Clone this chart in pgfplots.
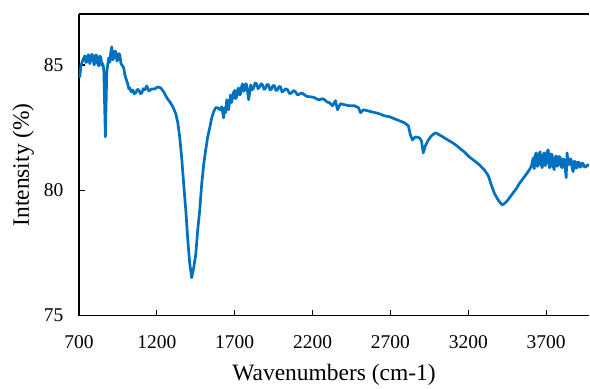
\documentclass[border=0pt]{standalone}
\usepackage{fontspec}
\setmainfont{Liberation Serif}
\usepackage{pgfplots}
\pgfplotsset{compat=1.18}
\definecolor{ftir}{RGB}{0,112,192}
\begin{document}
\begin{tikzpicture}
\begin{axis}[
  scale only axis,
  width=511pt, height=302pt,
  xmin=700, xmax=3976, ymin=75, ymax=87.03,
  axis x line=box, axis y line=left,
  axis line style={-, line width=1.6pt, black},
  xtick pos=left,
  xtick={700,1200,...,3700},
  ytick={75,80,85},
  tick align=inside,
  major tick length=6pt,
  every tick/.style={black, line width=1.3pt},
  /pgf/number format/assume math mode=true,
  /pgf/number format/1000 sep={},
  tick label style={font=\fontsize{19.5}{22}\selectfont, black},
  xticklabel style={anchor=base, yshift=-33pt},
  yticklabel style={anchor=east, xshift=-12pt},
  xlabel={Wavenumbers (cm-1)},
  ylabel={Intensity (\%)},
  label style={font=\fontsize{23.5}{27}\selectfont},
  xlabel style={at={(axis description cs:0.5,-0.2152)}, anchor=base},
  ylabel style={at={(axis description cs:-0.0978,0.5)}, anchor=base, rotate=0},
]
\addplot[ftir, line width=2.7pt, line join=round, no marks] coordinates {
(700,84.80) (706,84.52) (713,84.96) (726,85.20) (738,85.36) (745,85.10) (751,85.12) (758,85.38) (764,85.40)
(770,85.05) (777,85.20) (784,85.42) (790,85.36) (797,85.00) (803,85.08) (809,85.40) (815,85.36) (822,85.02) (828,84.96) (835,85.35) (841,85.28) (848,84.98) (854,85.04)
(860,84.80) (870,82.13) (879,84.72) (886,85.05) (892,85.28) (899,85.10) (905,85.52) (911,85.72) (918,85.20) (924,85.28)
(931,85.55) (937,85.52) (944,85.15) (950,85.20) (957,85.45) (963,85.40) (970,85.05) (976,85.00) (988,84.88) (995,84.60) (1001,84.48) (1008,84.35) (1014,84.24)
(1020,84.05) (1027,84.08) (1036,83.92) (1046,84.00) (1055,83.85) (1065,83.88) (1075,84.02) (1085,84.00) (1094,83.85) (1104,83.88) (1113,84.05) (1123,84.00)
(1136,84.16) (1149,83.96) (1168,84.04) (1187,84.04) (1206,84.12) (1226,84.08)
(1245,83.92) (1264,83.69) (1283,83.53) (1303,83.33) (1322,83.05) (1335,82.69)
(1347,82.13) (1360,81.29) (1373,80.22) (1386,79.22) (1399,78.03) (1411,77.11)
(1424,76.51) (1437,76.91) (1450,77.43) (1463,78.43) (1476,79.22) (1488,80.22)
(1501,81.02) (1514,81.61) (1527,82.13) (1540,82.49) (1553,82.89) (1565,83.13)
(1578,83.29) (1591,83.29) (1604,83.21) (1617,83.33) (1629,82.89) (1636,83.29)
(1643,83.10) (1649,83.61) (1655,83.40) (1661,83.21) (1668,83.55) (1674,83.80) (1680,83.50) (1687,83.69) (1693,83.90) (1700,83.98) (1706,83.65) (1713,83.73)
(1719,84.00) (1725,84.08) (1732,83.80) (1738,83.84) (1745,84.15) (1751,84.24) (1758,83.95) (1764,84.00) (1771,84.25) (1777,84.20) (1790,83.61)
(1803,84.20) (1812,84.00) (1822,84.08) (1831,84.28) (1841,84.24) (1850,84.05) (1860,84.12) (1870,84.25) (1879,84.20) (1889,84.02) (1899,84.08)
(1908,84.22) (1918,84.20) (1927,84.00) (1937,84.04) (1946,84.18) (1956,84.16) (1965,83.98) (1975,84.00) (1985,84.14) (1995,84.12) (2004,83.92) (2014,83.96)
(2027,84.05) (2040,84.00) (2052,83.85) (2065,83.88) (2078,83.98) (2091,83.92) (2104,83.80) (2117,83.84) (2133,83.88) (2149,83.80) (2165,83.74) (2181,83.73)
(2197,83.72) (2213,83.69) (2229,83.63) (2245,83.61) (2261,83.65) (2277,83.61) (2293,83.52) (2309,83.49) (2328,83.37) (2347,83.57)
(2360,83.21) (2379,83.45) (2405,83.41) (2437,83.37) (2469,83.37) (2495,83.29)
(2508,83.09) (2527,83.21) (2553,83.17) (2578,83.13) (2604,83.09) (2629,83.05)
(2661,82.97) (2694,82.93) (2726,82.85) (2758,82.77) (2790,82.69) (2815,82.57)
(2828,82.21) (2841,82.01) (2860,82.13) (2886,82.09) (2899,81.97) (2911,81.49)
(2924,81.77) (2944,82.01) (2963,82.17) (2989,82.29) (3014,82.21) (3046,82.09)
(3078,81.97) (3110,81.85) (3142,81.69) (3174,81.53) (3206,81.33) (3238,81.18)
(3270,81.02) (3302,80.82) (3328,80.58) (3347,80.22) (3366,79.90) (3386,79.66)
(3405,79.50) (3418,79.42) (3431,79.46) (3450,79.58) (3469,79.74) (3488,79.90)
(3508,80.06) (3527,80.26) (3546,80.42) (3565,80.58) (3584,80.74) (3604,80.94)
(3617,81.29) (3623,80.86) (3630,81.40) (3636,81.49) (3643,80.95) (3649,81.02) (3655,81.45) (3661,81.53) (3668,81.00) (3674,80.90)
(3681,81.40) (3687,81.49) (3694,80.98) (3700,81.10) (3707,81.55) (3713,81.61) (3720,80.90) (3726,80.94) (3732,81.45) (3738,81.41) (3745,80.95) (3751,80.82)
(3758,81.30) (3764,81.37) (3771,80.95) (3777,81.02) (3784,81.35) (3790,81.29) (3796,80.95) (3802,80.90) (3809,81.25) (3815,81.22) (3822,80.90) (3828,80.50)
(3834,81.49) (3841,81.05) (3847,81.02) (3854,81.25) (3860,81.22) (3867,80.85) (3873,80.74) (3880,81.15) (3886,81.14) (3892,80.88) (3898,80.90)
(3905,81.12) (3911,81.10) (3918,80.92) (3924,80.94) (3930,81.08) (3937,81.06) (3946,80.92) (3956,80.94) (3966,81.02) (3976,80.98)
};
\end{axis}
\path ([xshift=-79pt,yshift=-67pt]current axis.south west) rectangle ([yshift=14pt]current axis.north east);
\end{tikzpicture}
\end{document}
